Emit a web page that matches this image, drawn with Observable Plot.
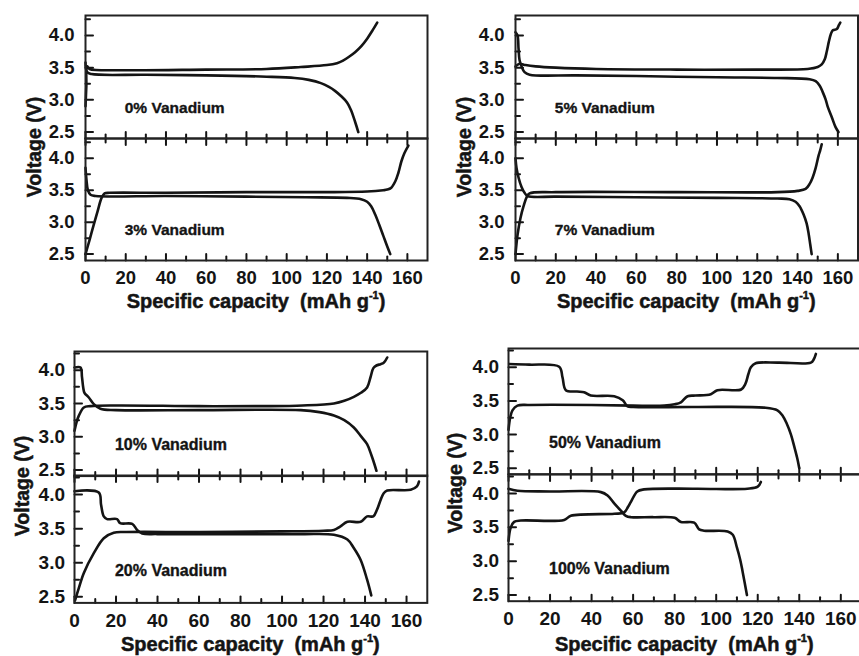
<!DOCTYPE html>
<html><head><meta charset="utf-8">
<script src="https://cdn.jsdelivr.net/npm/d3@7"></script>
<script src="https://cdn.jsdelivr.net/npm/@observablehq/plot@0.6"></script>
<style>
html,body{margin:0;padding:0;background:#fff;overflow:hidden;}
#chart{position:relative;width:859px;height:656px;overflow:hidden;background:#fff;font-family:"Liberation Sans",Arial,sans-serif;color:#141414;}
.xt{position:absolute;font-weight:bold;font-size:20px;line-height:20px;white-space:pre;transform:translateX(-50%);-webkit-text-stroke:0.5px #141414;}
.xt sup{font-size:11px;vertical-align:9px;line-height:0;}
.yt{position:absolute;font-weight:bold;font-size:19.5px;line-height:19.5px;white-space:pre;transform:translate(-50%,-50%) rotate(-90deg);-webkit-text-stroke:0.5px #141414;}
</style></head><body><div id="chart"></div>
<script>
// ---- tick values ----
const xMajor = [0, 20, 40, 60, 80, 100, 120, 140, 160];
const xMinor = [10, 30, 50, 70, 90, 110, 130, 150];
const yMajor = [2.5, 3.0, 3.5, 4.0];
const yMinor = [2.75, 3.25, 3.75, 4.25];

// ---- panel labels ----
const labels = ["0% Vanadium", "3% Vanadium", "5% Vanadium", "7% Vanadium",
                "10% Vanadium", "20% Vanadium", "50% Vanadium", "100% Vanadium"];
const xTitle = "Specific capacity  (mAh g";
const xTitleSup = "-1";
const yTitle = "Voltage (V)";

// ---- charge curves [capacity, voltage] ----
const chg0 = [[0,2.9],[0.4,3.2],[0.8,3.52],[2,3.48],[20,3.46],[60,3.47],[90,3.48],[107,3.51],[120,3.54],[125,3.57],[128,3.61],[131,3.67],[134,3.74],[137,3.83],[140,3.95],[142.5,4.07],[145,4.2]];
const chg3 = [[0,2.5],[2,2.72],[4,2.95],[6,3.17],[8,3.38],[9.5,3.45],[12,3.46],[40,3.46],[80,3.47],[120,3.47],[140,3.48],[148,3.5],[150,3.51],[152,3.54],[154,3.64],[155.5,3.77],[157,3.95],[158.5,4.08],[160.5,4.2]];
const chg5 = [[0,3.52],[2,3.56],[5,3.54],[10,3.52],[20,3.5],[40,3.48],[80,3.47],[120,3.47],[145,3.48],[150,3.51],[152,3.55],[153.5,3.63],[154.5,3.75],[155.5,3.9],[156.5,4.02],[157.5,4.08],[159.5,4.1],[160.5,4.16],[161.2,4.2]];
const chg7 = [[0,2.5],[1,2.8],[2.5,3.07],[4,3.25],[5.5,3.39],[7,3.45],[20,3.47],[80,3.47],[130,3.47],[140,3.49],[144,3.52],[146,3.6],[147.5,3.7],[149,3.85],[150.5,4.05],[151.2,4.12],[152,4.22]];
const chg10 = [[0,3.09],[1,3.22],[2,3.31],[4.5,3.44],[7.7,3.46],[20,3.47],[60,3.46],[93,3.46],[110,3.47],[125,3.5],[130,3.54],[134.6,3.6],[138,3.66],[141,3.74],[142.6,3.89],[144,4.03],[145.5,4.07],[147.5,4.09],[149,4.11],[150.7,4.19]];
const chg20 = [[0.3,2.45],[2,2.62],[4.5,2.85],[9.3,3.14],[14.1,3.36],[18.9,3.44],[25,3.45],[60,3.45],[100,3.46],[120,3.47],[125,3.48],[128,3.53],[131.5,3.6],[137.9,3.6],[141,3.68],[144,3.68],[145.8,3.78],[147.5,3.92],[149,4.02],[150.7,4.06],[162,4.07],[165,4.12],[166,4.19]];
const chg50 = [[0,3.07],[0.8,3.25],[1.9,3.36],[4.3,3.43],[10,3.44],[40,3.44],[60,3.43],[75,3.43],[80,3.45],[83,3.48],[86.2,3.57],[90,3.58],[97.4,3.6],[100.6,3.66],[112,3.67],[114,3.75],[115.5,3.9],[116.7,4.0],[119,4.06],[130,4.07],[145.6,4.07],[147,4.12],[148,4.2]];
const chg100 = [[0,3.3],[1.1,3.5],[2.7,3.58],[5.9,3.6],[26.8,3.61],[30,3.67],[51,3.7],[55.7,3.72],[57.5,3.8],[59,3.88],[62,4.03],[65.3,4.06],[90,4.07],[115,4.07],[120,4.1],[121.5,4.17]];

// ---- discharge curves [capacity, voltage] ----
const dis0 = [[0,3.58],[0.8,3.43],[3,3.4],[30,3.39],[60,3.38],[90,3.36],[104,3.34],[111,3.31],[117,3.26],[121,3.2],[124,3.14],[127,3.06],[130,2.96],[132,2.84],[134,2.66],[135.6,2.5]];
const dis3 = [[0,3.85],[0.5,3.66],[1.2,3.5],[2.5,3.43],[5,3.41],[40,3.41],[80,3.4],[110,3.39],[130,3.38],[137,3.36],[140,3.32],[142,3.25],[144,3.12],[146,2.96],[148,2.79],[150,2.62],[151.5,2.5]];
const dis5 = [[0,4.05],[1,4.0],[1.5,3.8],[2,3.62],[3,3.52],[4.5,3.43],[7,3.39],[30,3.38],[60,3.37],[100,3.35],[130,3.34],[146,3.32],[149,3.29],[151,3.22],[152.5,3.12],[154,3.0],[155,2.89],[157,2.73],[158.8,2.58],[160.3,2.5]];
const dis7 = [[0,4.0],[0.5,3.85],[1.5,3.7],[3,3.55],[4.5,3.46],[6,3.41],[20,3.4],[60,3.39],[100,3.38],[130,3.37],[136,3.36],[139,3.32],[141,3.25],[143,3.12],[144.5,2.98],[145.5,2.82],[146.3,2.65],[147,2.5]];
const dis10 = [[0,4.04],[2.9,4.04],[3.6,3.9],[4.2,3.74],[4.8,3.66],[6.9,3.59],[9.3,3.49],[12.5,3.42],[20,3.4],[60,3.4],[109,3.4],[118,3.37],[125,3.32],[130,3.25],[134.6,3.14],[138,3.01],[141,2.89],[143,2.73],[144,2.64],[145.5,2.49]];
const dis20 = [[0,4.05],[11.7,4.03],[12.8,3.85],[14.1,3.68],[15.7,3.64],[20.5,3.64],[22,3.58],[27.8,3.57],[30.2,3.48],[32.6,3.43],[40,3.42],[80,3.42],[110,3.42],[125,3.41],[131.5,3.34],[134.5,3.22],[137.9,3.04],[141,2.75],[143,2.52]];
const dis50 = [[0.3,4.05],[10,4.04],[24.4,4.01],[26,3.85],[27.6,3.66],[33,3.64],[36.4,3.63],[39.6,3.58],[50.9,3.57],[55,3.51],[57.3,3.42],[60,3.41],[90,3.41],[123,3.4],[129.5,3.36],[132,3.28],[134,3.16],[136,3.0],[137.6,2.82],[139,2.65],[140,2.5]];
const dis100 = [[0,4.07],[4.3,4.04],[20,4.03],[44.5,4.02],[47.7,3.97],[51,3.85],[54,3.75],[56.5,3.67],[59,3.65],[70,3.65],[80,3.64],[83,3.58],[89.4,3.57],[91.8,3.47],[94.2,3.45],[105.5,3.44],[108,3.39],[110,3.2],[111.5,3.03],[112.7,2.85],[114.8,2.5]];

const charges = [chg0, chg3, chg5, chg7, chg10, chg20, chg50, chg100];
const discharges = [dis0, dis3, dis5, dis7, dis10, dis20, dis50, dis100];

// ---- layout (pixels) ----
const groups = [
  {left:85, right:427, top:15, mid:138, bottom:260, dom:[2.4,4.31], fs:18.5, padY:11, padX:10, lfs:15.5, panels:[0,1], yt:[35,147], xBase:308},
  {left:515, right:857.5, top:15, mid:138, bottom:260, dom:[2.4,4.31], fs:18.5, padY:11, padX:10, lfs:15.5, panels:[2,3], yt:[465,147], xBase:308},
  {left:74, right:426.8, top:350.7, mid:475.3, bottom:602.7, dom:[2.41,4.28], fs:19, padY:9.5, padX:10.5, lfs:16, panels:[4,5], yt:[23,486], xBase:650.7},
  {left:507.7, right:860.8, top:348.3, mid:474, bottom:600.7, dom:[2.41,4.28], fs:19, padY:9.5, padX:10.5, lfs:16, panels:[6,7], yt:[456,482.5], xBase:650.7}
];

const chart = document.getElementById("chart");
const INK = "#141414";
const FONT = "'Liberation Sans', Arial, sans-serif";
const TEXT_STROKE = {stroke: INK, strokeWidth: 0.45};
const X_DOMAIN = [0, 170];

// build two-point tick segments (drawn as paths through the plot's own scales)
function xTickSegs(values, yFrom, dy) {
  return values.flatMap(t => [{x: t, y: yFrom, k: t}, {x: t, y: yFrom + dy, k: t}]);
}
function yTickSegs(values, xFrom, dx) {
  return values.flatMap(t => [{x: xFrom, y: t, k: t}, {x: xFrom + dx, y: t, k: t}]);
}

function panel(g, idx, isTop) {
  const ml = 70, mr = 4, mt = 4, mb = isTop ? 4 : 40;
  const top = isTop ? g.top : g.mid;
  const bot = isTop ? g.mid : g.bottom;
  const w = g.right - g.left, h = bot - top;
  const kx = w / (X_DOMAIN[1] - X_DOMAIN[0]);
  const ky = h / (g.dom[1] - g.dom[0]);
  const [y0, y1] = g.dom;
  const segs = [
    ...yTickSegs(yMajor, X_DOMAIN[0], 7.5 / kx),
    ...yTickSegs(yMinor, X_DOMAIN[0], 4.5 / kx),
    ...xTickSegs(xMajor, y0, 6.5 / ky),
    ...xTickSegs(xMinor, y0, 4 / ky),
    ...(isTop ? [] : xTickSegs(xMajor, y1, -6.5 / ky)),
    ...(isTop ? [] : xTickSegs(xMinor, y1, -4 / ky))
  ].map((d, i) => ({...d, k: Math.floor(i / 2)}));
  const svg = Plot.plot({
    width: w + ml + mr, height: h + mt + mb,
    marginLeft: ml, marginRight: mr, marginTop: mt, marginBottom: mb,
    style: {background: "transparent", color: INK, fontFamily: FONT, overflow: "visible"},
    x: {domain: X_DOMAIN, label: null, axis: null},
    y: {domain: g.dom, label: null, axis: null},
    marks: [
      Plot.axisY({ticks: yMajor, tickSize: 0, tickPadding: g.padY, tickFormat: d3.format(".1f"), fontSize: g.fs, fontWeight: "bold", label: null, ...TEXT_STROKE}),
      isTop ? null : Plot.axisX({anchor: "bottom", ticks: xMajor, tickSize: 0, tickPadding: g.padX, tickFormat: d => String(d), fontSize: g.fs, fontWeight: "bold", label: null, ...TEXT_STROKE}),
      Plot.line(segs, {x: "x", y: "y", z: "k", stroke: INK, strokeWidth: 2, curve: "linear"}),
      Plot.line(charges[idx], {x: d => d[0], y: d => d[1], stroke: INK, strokeWidth: 2.6, curve: "catmull-rom"}),
      Plot.line(discharges[idx], {x: d => d[0], y: d => d[1], stroke: INK, strokeWidth: 2.6, curve: "catmull-rom"}),
      Plot.text([labels[idx]], {x: 19.5, y: 2.88, text: d => d, textAnchor: "start", fontSize: g.lfs, fontWeight: "bold", fill: INK, stroke: INK, strokeWidth: 0.35}),
      Plot.frame({stroke: "#222", strokeWidth: 2})
    ]
  });
  svg.style.position = "absolute";
  svg.style.left = (g.left - ml) + "px";
  svg.style.top = (top - mt) + "px";
  svg.style.maxWidth = "none";
  chart.appendChild(svg);
}

groups.forEach(g => {
  panel(g, g.panels[0], true);
  panel(g, g.panels[1], false);
  const xt = document.createElement("div");
  xt.className = "xt";
  xt.style.left = ((g.left + g.right) / 2) + "px";
  xt.style.top = (g.xBase - 17) + "px";
  xt.appendChild(document.createTextNode(xTitle));
  const sup = document.createElement("sup");
  sup.textContent = xTitleSup;
  xt.appendChild(sup);
  xt.appendChild(document.createTextNode(")"));
  chart.appendChild(xt);
  const yt = document.createElement("div");
  yt.className = "yt";
  yt.style.left = g.yt[0] + "px";
  yt.style.top = g.yt[1] + "px";
  yt.textContent = yTitle;
  chart.appendChild(yt);
});
</script></body></html>
